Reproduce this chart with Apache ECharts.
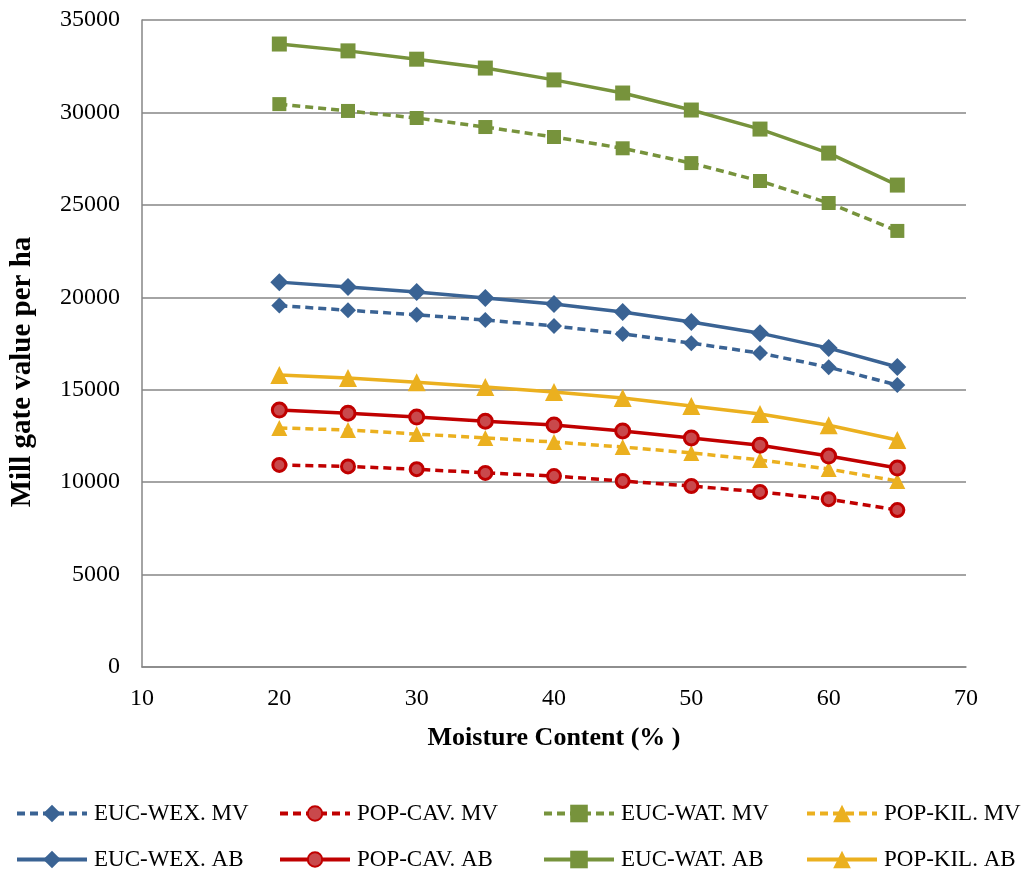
<!DOCTYPE html>
<html><head><meta charset="utf-8">
<script src="https://cdn.jsdelivr.net/npm/echarts@6/dist/echarts.min.js"></script>
<style>html,body{margin:0;padding:0;background:#fff}#c{width:1027px;height:872px}</style>
</head><body><div id="c"></div>
<script>
const moisture = [20, 25, 30, 35, 40, 45, 50, 55, 60, 65];
const eucWexMV = [19550, 19300, 19050, 18770, 18450, 18020, 17520, 16980, 16220, 15250];
const popCavMV = [10930, 10850, 10700, 10500, 10330, 10060, 9790, 9470, 9080, 8490];
const eucWatMV = [30450, 30080, 29700, 29210, 28670, 28060, 27260, 26290, 25100, 23590];
const popKilMV = [12930, 12820, 12600, 12390, 12170, 11900, 11580, 11200, 10710, 10060];
const eucWexAB = [20820, 20560, 20290, 19960, 19640, 19200, 18660, 18060, 17250, 16230];
const popCavAB = [13900, 13730, 13520, 13300, 13090, 12770, 12390, 12000, 11410, 10760];
const eucWatAB = [33700, 33330, 32880, 32400, 31760, 31050, 30130, 29100, 27800, 26070];
const popKilAB = [15790, 15630, 15410, 15150, 14880, 14550, 14120, 13690, 13080, 12280];
const yTicks = [0, 5000, 10000, 15000, 20000, 25000, 30000, 35000];
const xTicks = [10, 20, 30, 40, 50, 60, 70];
const xTitle = 'Moisture Content (% )';
const yTitle = 'Mill gate value per ha';

const FONT = '"Liberation Serif","Times New Roman",serif';
const BLUE = '#3A6394', RED = '#C00000', GREEN = '#77933C', GOLD = '#EBB01F';

const defs = [
  {name:'EUC-WEX. MV', data:eucWexMV, color:BLUE, sym:'diamond', size:16, dash:true, fill:BLUE},
  {name:'POP-CAV. MV', data:popCavMV, color:RED, sym:'circle', size:13, dash:true, fill:'#C9494C'},
  {name:'EUC-WAT. MV', data:eucWatMV, color:GREEN, sym:'rect', size:14, dash:true, fill:GREEN},
  {name:'POP-KIL. MV', data:popKilMV, color:GOLD, sym:'triangle', size:16, dash:true, fill:GOLD},
  {name:'EUC-WEX. AB', data:eucWexAB, color:BLUE, sym:'diamond', size:18, dash:false, fill:BLUE},
  {name:'POP-CAV. AB', data:popCavAB, color:RED, sym:'circle', size:14, dash:false, fill:'#C9494C'},
  {name:'EUC-WAT. AB', data:eucWatAB, color:GREEN, sym:'rect', size:15, dash:false, fill:GREEN},
  {name:'POP-KIL. AB', data:popKilAB, color:GOLD, sym:'triangle', size:18, dash:false, fill:GOLD}
];

const series = defs.map(d => ({
  name: d.name, type: 'line',
  data: moisture.map((x, i) => [x, d.data[i]]),
  symbol: d.sym, symbolSize: d.size, showSymbol: true,
  lineStyle: {color: d.color, width: 3.5, type: d.dash ? [8, 5] : 'solid'},
  itemStyle: {color: d.fill, borderColor: d.color, borderWidth: d.sym === 'circle' ? 3 : 0, opacity: 1},
  emphasis: {disabled: true},
  animation: false, z: d.dash ? 2 : 3
}));

const legendPos = [
  [15, 802], [278, 802], [542, 802], [805, 802],
  [15, 848], [278, 848], [542, 848], [805, 848]
];
const legends = defs.map((d, i) => ({
  data: [d.name], left: legendPos[i][0], top: legendPos[i][1],
  itemWidth: 70, itemHeight: d.sym === 'circle' ? 18 : 22, itemGap: 0, padding: 0,
  lineStyle: {width: 4},
  textStyle: {fontFamily: FONT, fontSize: 23, color: '#000', padding: [0, 0, 0, 2]},
  selectedMode: false
}));

const chart = echarts.init(document.getElementById('c'), null, {renderer: 'canvas'});
chart.setOption({
  backgroundColor: '#fff',
  animation: false,
  grid: {left: 142, right: 61, top: 20, bottom: 205, containLabel: false},
  legend: legends,
  graphic: [{
    type: 'text', x: 23, y: 372, rotation: Math.PI / 2,
    style: {text: yTitle, fontFamily: FONT, fontSize: 29, fontWeight: 'bold', fill: '#000',
      align: 'center', verticalAlign: 'middle'}
  }],
  xAxis: {
    type: 'value', min: 10, max: 70, interval: 10,
    name: xTitle, nameLocation: 'middle', nameGap: 58,
    nameTextStyle: {fontFamily: FONT, fontSize: 26, fontWeight: 'bold', color: '#000'},
    axisLine: {show: true, lineStyle: {color: '#868686', width: 1.5}},
    axisTick: {show: false},
    splitLine: {show: false},
    axisLabel: {fontFamily: FONT, fontSize: 24, color: '#000', margin: 20,
      formatter: v => xTicks.includes(v) ? String(v) : ''}
  },
  yAxis: {
    type: 'value', min: 0, max: 35000, interval: 5000,
    axisLine: {show: true, lineStyle: {color: '#868686', width: 1.5}},
    axisTick: {show: false},
    splitLine: {show: true, lineStyle: {color: '#868686', width: 1.5}},
    axisLabel: {fontFamily: FONT, fontSize: 24, color: '#000', margin: 22,
      formatter: v => yTicks.includes(v) ? String(v) : ''}
  },
  series: series
});
</script></body></html>
